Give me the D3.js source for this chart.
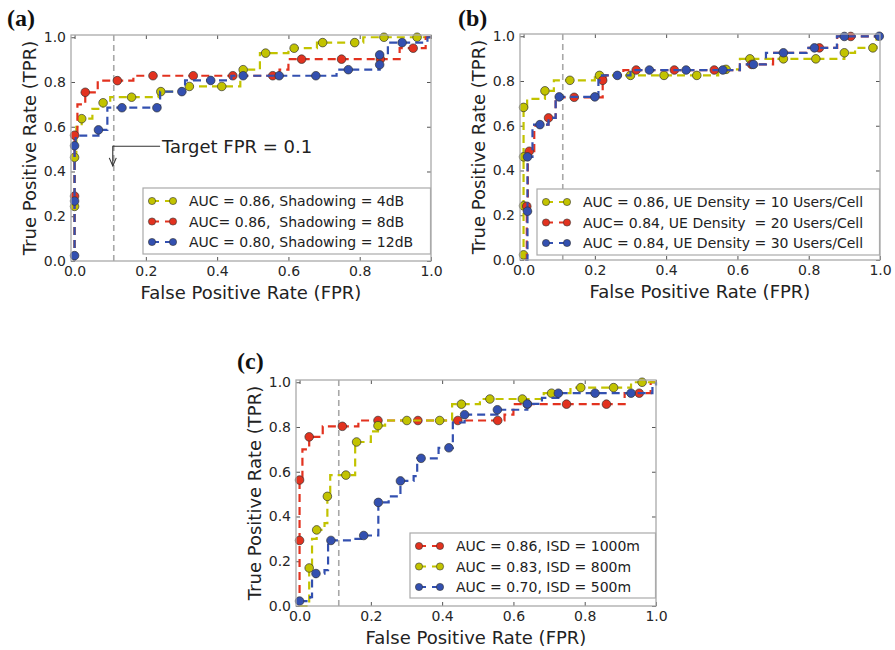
<!DOCTYPE html>
<html>
<head>
<meta charset="utf-8">
<script src="https://d3js.org/d3.v7.min.js"></script>
<style>
    body { margin: 0; background: #fff; }
    svg { display: block; font-family: "DejaVu Sans", sans-serif; }
</style>
</head>
<body>
<svg width="895" height="650"></svg>
<script>
    // ROC points: [fpr, tpr, marker?]
    const ticks = [0, 0.2, 0.4, 0.6, 0.8, 1.0];
    const targetFpr = 0.11;

    // (a) shadowing
    const shadowing4dB = [[0,0,0],[0,0.244,1],[0,0.463,1],[0.005,0.6,0],[0.02,0.636,1],[0.05,0.68,0],[0.08,0.707,1],[0.1,0.732,0],[0.16,0.732,1],[0.235,0.757,0],[0.242,0.757,1],[0.30,0.78,0],[0.322,0.78,1],[0.413,0.78,1],[0.465,0.855,0],[0.473,0.855,1],[0.52,0.929,0],[0.536,0.929,1],[0.6,0.951,0],[0.616,0.951,1],[0.68,0.976,0],[0.696,0.976,1],[0.786,0.976,1],[0.81,1.0,0],[0.868,1.0,1],[0.961,1.0,1],[1,1,0]];
    const shadowing8dB = [[0,0,0],[0,0.29,1],[0,0.562,1],[0.008,0.70,0],[0.03,0.754,1],[0.065,0.806,0],[0.12,0.806,1],[0.165,0.828,0],[0.22,0.828,1],[0.333,0.828,1],[0.444,0.828,1],[0.556,0.828,1],[0.575,0.855,0],[0.6,0.902,0],[0.637,0.902,1],[0.749,0.902,1],[0.858,0.902,1],[0.912,0.951,0],[0.95,0.951,1],[0.985,1.0,0],[1,1,0]];
    const shadowing12dB = [[0,0,0],[0,0.024,1],[0,0.268,1],[0,0.515,1],[0.003,0.56,0],[0.067,0.586,1],[0.092,0.685,0],[0.133,0.685,1],[0.231,0.685,1],[0.24,0.757,0],[0.301,0.757,1],[0.31,0.807,0],[0.382,0.807,1],[0.44,0.828,0],[0.473,0.828,1],[0.574,0.828,1],[0.677,0.828,1],[0.735,0.855,0],[0.768,0.855,1],[0.856,0.877,1],[0.856,0.921,1],[0.879,0.976,0],[0.919,0.976,1],[0.99,1.0,0],[1,1,0]];
    const legendA = ['AUC = 0.86, Shadowing = 4dB', 'AUC= 0.86,  Shadowing = 8dB', 'AUC = 0.80, Shadowing = 12dB'];

    // (b) UE density
    const density10 = [[0,0,0],[0,0.023,1],[0,0.242,1],[0,0.461,1],[0,0.682,1],[0.01,0.72,0],[0.06,0.756,1],[0.085,0.803,0],[0.13,0.803,1],[0.2,0.825,0],[0.213,0.825,1],[0.30,0.825,1],[0.394,0.825,1],[0.486,0.825,1],[0.546,0.852,0],[0.568,0.852,1],[0.607,0.899,0],[0.635,0.899,1],[0.729,0.899,1],[0.82,0.899,1],[0.9,0.926,1],[0.93,0.948,0],[0.98,0.948,1],[0.99,1.0,0],[1,1,0]];
    const density20 = [[0.005,0,0],[0.009,0.24,1],[0.012,0.47,0],[0.016,0.486,1],[0.03,0.6,0],[0.046,0.605,0],[0.07,0.635,1],[0.09,0.727,0],[0.142,0.727,1],[0.2,0.727,0],[0.222,0.803,1],[0.23,0.825,0],[0.28,0.849,0],[0.316,0.849,1],[0.423,0.849,1],[0.535,0.849,1],[0.607,0.874,0],[0.64,0.874,1],[0.7,0.926,0],[0.76,0.926,0],[0.8,0.948,0],[0.83,0.948,1],[0.88,0.999,0],[0.918,0.999,1],[1,1,0]];
    const density30 = [[0.005,0,0],[0.011,0.218,1],[0.011,0.461,1],[0.025,0.605,0],[0.046,0.605,1],[0.07,0.635,0],[0.09,0.729,0],[0.1,0.729,1],[0.2,0.729,1],[0.21,0.803,0],[0.22,0.825,0],[0.263,0.825,1],[0.3,0.849,0],[0.353,0.849,1],[0.456,0.849,1],[0.559,0.849,1],[0.607,0.874,0],[0.645,0.874,1],[0.68,0.926,0],[0.729,0.926,1],[0.794,0.948,0],[0.816,0.948,1],[0.879,0.999,0],[0.9,0.999,1],[0.998,1.0,1]];
    const legendB = ['AUC = 0.86, UE Density = 10 Users/Cell', 'AUC= 0.84, UE Density  = 20 Users/Cell', 'AUC = 0.84, UE Density = 30 Users/Cell'];

    // (c) inter-site distance
    const isd1000 = [[0,0,0],[0,0.293,1],[0,0.563,1],[0.008,0.70,0],[0.027,0.756,1],[0.065,0.803,0],[0.12,0.803,1],[0.165,0.829,0],[0.22,0.829,1],[0.332,0.829,1],[0.444,0.829,1],[0.556,0.829,1],[0.575,0.855,0],[0.6,0.902,0],[0.639,0.902,1],[0.749,0.902,1],[0.861,0.902,1],[0.912,0.951,0],[0.953,0.951,1],[0.985,1.0,0],[1,1,0]];
    const isd800 = [[0,0,0],[0.027,0.02,0],[0.027,0.17,1],[0.035,0.3,0],[0.048,0.34,1],[0.07,0.37,0],[0.078,0.49,1],[0.086,0.585,0],[0.13,0.585,1],[0.156,0.733,0],[0.16,0.733,1],[0.2,0.78,0],[0.22,0.806,1],[0.24,0.829,0],[0.301,0.829,1],[0.393,0.829,1],[0.428,0.902,0],[0.454,0.902,1],[0.506,0.925,0],[0.534,0.925,1],[0.625,0.925,1],[0.685,0.951,0],[0.707,0.951,1],[0.76,0.976,0],[0.789,0.976,1],[0.881,0.976,1],[0.93,1.0,0],[0.961,1.0,1],[1,1,0]];
    const isd500 = [[0,0.022,1],[0.03,0.04,0],[0.035,0.13,0],[0.046,0.145,1],[0.07,0.16,0],[0.08,0.293,0],[0.088,0.293,1],[0.15,0.3,0],[0.18,0.315,1],[0.221,0.463,1],[0.25,0.49,0],[0.275,0.49,0],[0.283,0.559,1],[0.32,0.58,0],[0.33,0.66,0],[0.341,0.66,1],[0.39,0.707,0],[0.419,0.707,1],[0.43,0.82,0],[0.463,0.855,1],[0.555,0.877,1],[0.639,0.903,1],[0.68,0.93,0],[0.726,0.951,1],[0.829,0.951,1],[0.93,0.951,1],[0.99,0.98,0],[1,1,0]];
    const legendC = ['AUC = 0.86, ISD = 1000m', 'AUC = 0.83, ISD = 800m', 'AUC = 0.70, ISD = 500m'];

    const YEL = '#c2c300', RED = '#e2321f', BLU = '#3350b0';
    const W = 360, H = 226;

    const panels = [
        { tag: '(a)', left: 71, top: 35, tagX: 7, tagY: 26,
          series: [shadowing4dB, shadowing8dB, shadowing12dB], colors: [YEL, RED, BLU], labels: legendA,
          legend: { x: 72, y: 153, h: 66 }, note: true },
        { tag: '(b)', left: 520, top: 34, tagX: 458, tagY: 26,
          series: [density10, density20, density30], colors: [YEL, RED, BLU], labels: legendB,
          legend: { x: 17, y: 155, h: 66 } },
        { tag: '(c)', left: 296, top: 380, tagX: 237, tagY: 369,
          series: [isd1000, isd800, isd500], colors: [RED, YEL, BLU], labels: legendC,
          legend: { x: 114, y: 153, h: 65 } }
    ];

    const svg = d3.select('svg');

    const drawPanel = p => {
        const x = d3.scaleLinear().domain([-0.01, 1]).range([0, W]);
        const y = d3.scaleLinear().domain([0, 1.01]).range([H, 0]);

        svg.append('text')
            .attr('x', p.tagX).attr('y', p.tagY)
            .attr('font-family', '"Liberation Serif", serif')
            .attr('font-weight', 'bold')
            .attr('font-size', 24)
            .attr('fill', '#111')
            .text(p.tag);

        const g = svg.append('g').attr('transform', `translate(${p.left},${p.top})`);

        g.append('rect')
            .attr('width', W).attr('height', H)
            .attr('fill', '#fff');

        // dashed FPR = 0.1 reference
        g.append('line')
            .attr('x1', x(targetFpr)).attr('x2', x(targetFpr))
            .attr('y1', 0).attr('y2', H)
            .attr('stroke', '#a8a8a8')
            .attr('stroke-width', 1.6)
            .attr('stroke-dasharray', '6,4');

        // axes (ticks point inward on all four sides)
        const fmt = d3.format('.1f');
        const styleAxis = a => {
            a.select('.domain').remove();
            a.selectAll('line').attr('stroke', '#555');
            a.selectAll('text').attr('font-size', 14).attr('fill', '#262626')
                .attr('font-family', '"DejaVu Sans", sans-serif');
        };
        g.append('g').attr('transform', `translate(0,${H})`)
            .call(d3.axisBottom(x).tickValues(ticks).tickSize(-4).tickPadding(5).tickFormat(fmt))
            .call(styleAxis);
        g.append('g')
            .call(d3.axisLeft(y).tickValues(ticks).tickSize(-4).tickPadding(5).tickFormat(fmt))
            .call(styleAxis);
        g.append('g')
            .call(d3.axisTop(x).tickValues(ticks).tickSize(-4).tickFormat(''))
            .call(styleAxis);
        g.append('g').attr('transform', `translate(${W},0)`)
            .call(d3.axisRight(y).tickValues(ticks).tickSize(-4).tickFormat(''))
            .call(styleAxis);

        // curves
        const line = d3.line().x(d => x(d[0])).y(d => y(d[1])).curve(d3.curveStepAfter);
        p.series.forEach((s, i) => {
            const sg = g.append('g');
            sg.append('path')
                .attr('d', line(s))
                .attr('fill', 'none')
                .attr('stroke', p.colors[i])
                .attr('stroke-width', 2.2)
                .attr('stroke-dasharray', '8,5');
            sg.selectAll('circle')
                .data(s.filter(d => d[2]))
                .join('circle')
                    .attr('cx', d => x(d[0]))
                    .attr('cy', d => y(d[1]))
                    .attr('r', 4.3)
                    .attr('fill', p.colors[i])
                    .attr('stroke', '#333')
                    .attr('stroke-width', 0.7);
        });

        // frame
        g.append('rect')
            .attr('width', W).attr('height', H)
            .attr('fill', 'none')
            .attr('stroke', '#aaa')
            .attr('stroke-width', 1.3);

        // annotation arrow in (a)
        if (p.note) {
            const ax = x(targetFpr) - 1, ay = y(0.513), tipY = y(0.425);
            g.append('path')
                .attr('d', `M${x(0.24)},${ay} H${ax} V${tipY}`)
                .attr('fill', 'none').attr('stroke', '#333').attr('stroke-width', 1.1);
            g.append('path')
                .attr('d', `M${ax - 3.5},${tipY - 8} L${ax},${tipY} L${ax + 3.5},${tipY - 8}`)
                .attr('fill', 'none').attr('stroke', '#333').attr('stroke-width', 1.1);
            g.append('text')
                .attr('x', x(0.245)).attr('y', y(0.513) + 6.5)
                .attr('font-size', 18).attr('fill', '#222')
                .text('Target FPR = 0.1');
        }

        // legend
        const lw = W - p.legend.x - 0.5;
        const lg = g.append('g').attr('transform', `translate(${p.legend.x},${p.legend.y})`);
        lg.append('rect')
            .attr('width', lw).attr('height', p.legend.h)
            .attr('fill', '#fff').attr('stroke', '#aaa').attr('stroke-width', 1.2);
        p.labels.forEach((lab, i) => {
            const ry = 13 + i * 20.5;
            lg.append('line')
                .attr('x1', 9).attr('x2', 30).attr('y1', ry).attr('y2', ry)
                .attr('stroke', p.colors[i]).attr('stroke-width', 2.2)
                .attr('stroke-dasharray', '7,6');
            [9, 30].forEach(cx => lg.append('circle')
                .attr('cx', cx).attr('cy', ry).attr('r', 3.6)
                .attr('fill', p.colors[i]).attr('stroke', '#333').attr('stroke-width', 0.6));
            lg.append('text')
                .attr('x', 46).attr('y', ry + 5)
                .attr('font-size', 14).attr('fill', '#222')
                .style('white-space', 'pre')
                .text(lab);
        });

        // axis titles
        g.append('text')
            .attr('x', W / 2).attr('y', H + 38)
            .attr('text-anchor', 'middle')
            .attr('font-size', 18).attr('fill', '#222')
            .text('False Positive Rate (FPR)');
        g.append('text')
            .attr('transform', `translate(-35,${H / 2}) rotate(-90)`)
            .attr('text-anchor', 'middle')
            .attr('font-size', 18).attr('fill', '#222')
            .text('True Positive Rate (TPR)');
    };

    panels.forEach(drawPanel);
</script>
</body>
</html>
